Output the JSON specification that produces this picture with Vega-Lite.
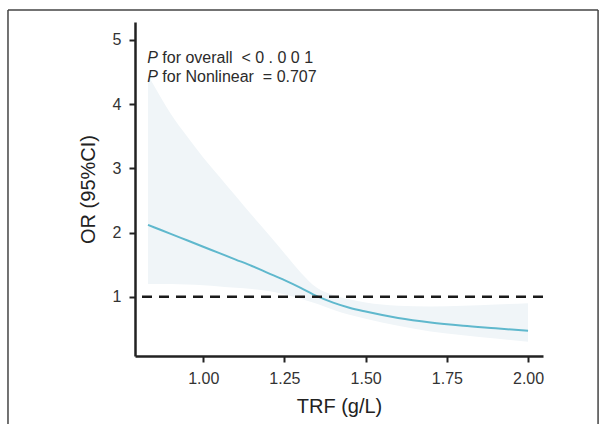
{
  "$schema": "https://vega.github.io/schema/vega-lite/v6.json",
  "autosize": "none",
  "width": 408,
  "height": 334,
  "padding": {"left": 135, "top": 22, "right": 62, "bottom": 68},
  "background": "white",
  "config": {
    "view": {"stroke": null},
    "font": "Liberation Sans",
    "axis": {
      "grid": false,
      "domainColor": "#222222",
      "domainWidth": 2.5,
      "tickColor": "#222222",
      "tickWidth": 2,
      "tickSize": 6,
      "labelFont": "Liberation Sans",
      "labelFontSize": 16,
      "labelColor": "#333333",
      "labelPadding": 8,
      "titleFont": "Liberation Sans",
      "titleFontSize": 20,
      "titleFontWeight": "normal",
      "titleColor": "#222222"
    }
  },
  "datasets": {
    "curve": [
      {"trf": 0.83, "or": 2.12, "lo": 1.2, "hi": 4.45},
      {"trf": 0.87, "or": 2.04, "lo": 1.2, "hi": 4.1},
      {"trf": 0.90, "or": 1.98, "lo": 1.2, "hi": 3.85},
      {"trf": 0.95, "or": 1.88, "lo": 1.19, "hi": 3.5},
      {"trf": 1.00, "or": 1.78, "lo": 1.18, "hi": 3.17},
      {"trf": 1.05, "or": 1.68, "lo": 1.16, "hi": 2.87},
      {"trf": 1.10, "or": 1.58, "lo": 1.14, "hi": 2.57},
      {"trf": 1.15, "or": 1.48, "lo": 1.12, "hi": 2.27},
      {"trf": 1.20, "or": 1.37, "lo": 1.09, "hi": 1.98},
      {"trf": 1.25, "or": 1.26, "lo": 1.04, "hi": 1.68},
      {"trf": 1.30, "or": 1.14, "lo": 0.97, "hi": 1.38},
      {"trf": 1.35, "or": 1.01, "lo": 0.89, "hi": 1.14},
      {"trf": 1.40, "or": 0.91, "lo": 0.8, "hi": 1.03},
      {"trf": 1.45, "or": 0.83, "lo": 0.72, "hi": 0.96},
      {"trf": 1.50, "or": 0.77, "lo": 0.66, "hi": 0.91},
      {"trf": 1.60, "or": 0.67, "lo": 0.55, "hi": 0.86},
      {"trf": 1.70, "or": 0.60, "lo": 0.46, "hi": 0.85},
      {"trf": 1.80, "or": 0.55, "lo": 0.4, "hi": 0.86},
      {"trf": 1.90, "or": 0.51, "lo": 0.35, "hi": 0.88},
      {"trf": 2.00, "or": 0.47, "lo": 0.3, "hi": 0.9}
    ],
    "notes": [
      {"px": 0.828, "py": 4.72, "p": "P", "rest": "for overall\u00a0\u00a0< 0 . 0 0 1"},
      {"px": 0.828, "py": 4.42, "p": "P", "rest": "for Nonlinear\u00a0\u00a0= 0.707"}
    ]
  },
  "layer": [
    {
      "data": {"name": "curve"},
      "mark": {"type": "area", "color": "#f0f5f8", "opacity": 1, "interpolate": "monotone"},
      "encoding": {
        "x": {"field": "trf", "type": "quantitative", "scale": {"domain": [0.79, 2.046], "nice": false, "zero": false},
          "axis": {"values": [1, 1.25, 1.5, 1.75, 2], "format": ".2f", "title": "TRF (g/L)", "titlePadding": 10}},
        "y": {"field": "lo", "type": "quantitative", "scale": {"domain": [0.078, 5.28], "nice": false, "zero": false},
          "axis": {"values": [1, 2, 3, 4, 5], "format": "d", "title": "OR (95%CI)", "titlePadding": 14}},
        "y2": {"field": "hi"}
      }
    },
    {
      "data": {"name": "curve"},
      "mark": {"type": "line", "color": "#5fb8cd", "strokeWidth": 2, "interpolate": "monotone"},
      "encoding": {
        "x": {"field": "trf", "type": "quantitative"},
        "y": {"field": "or", "type": "quantitative"}
      }
    },
    {
      "data": {"values": [{"ref": 1}]},
      "mark": {"type": "rule", "color": "#1a1a1a", "strokeWidth": 2.5, "strokeDash": [10, 7]},
      "encoding": {"y": {"field": "ref", "type": "quantitative"}}
    },
    {
      "data": {"name": "notes"},
      "mark": {"type": "text", "align": "left", "baseline": "middle", "fontSize": 16, "fontStyle": "italic", "color": "#2b2b2b", "font": "Liberation Sans"},
      "encoding": {
        "x": {"field": "px", "type": "quantitative"},
        "y": {"field": "py", "type": "quantitative"},
        "text": {"field": "p"}
      }
    },
    {
      "data": {"name": "notes"},
      "mark": {"type": "text", "align": "left", "baseline": "middle", "fontSize": 16, "dx": 15, "color": "#2b2b2b", "font": "Liberation Sans"},
      "encoding": {
        "x": {"field": "px", "type": "quantitative"},
        "y": {"field": "py", "type": "quantitative"},
        "text": {"field": "rest"}
      }
    },
    {
      "data": {"values": [
        {"side": "top", "x1": 0.399, "x2": 2.2155, "y1": 5.465, "y2": 5.465},
        {"side": "left", "x1": 0.399, "x2": 0.399, "y1": 5.465, "y2": -1.2},
        {"side": "right", "x1": 2.2155, "x2": 2.2155, "y1": 5.465, "y2": -1.2}
      ]},
      "mark": {"type": "rule", "color": "#444444", "strokeWidth": 1.5, "clip": false},
      "encoding": {
        "x": {"field": "x1", "type": "quantitative"},
        "x2": {"field": "x2"},
        "y": {"field": "y1", "type": "quantitative"},
        "y2": {"field": "y2"}
      }
    }
  ]
}
